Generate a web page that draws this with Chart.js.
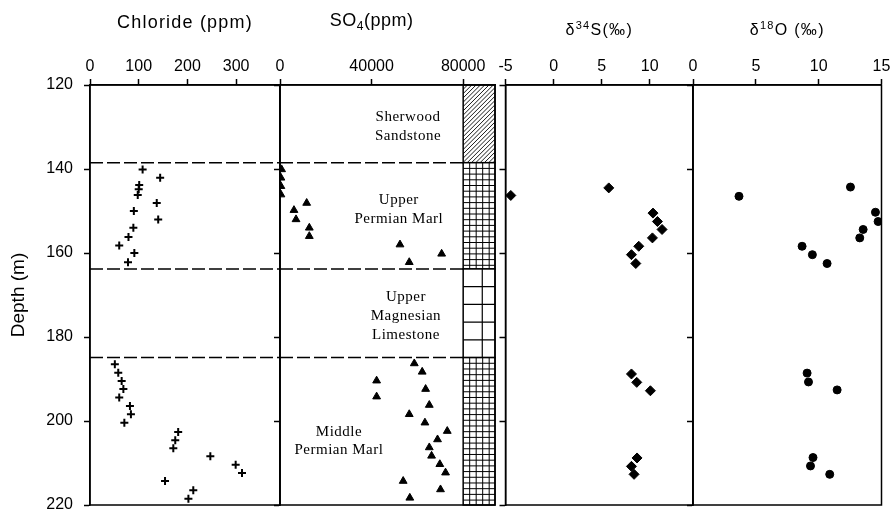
<!DOCTYPE html>
<html><head><meta charset="utf-8">
<script src="https://cdn.jsdelivr.net/npm/chart.js@4/dist/chart.umd.min.js"></script>
<style>
html,body{margin:0;padding:0;background:#fff;}
#wrap{position:relative;width:894px;height:511px;overflow:hidden;}
#wrap canvas{position:absolute;left:0;top:0;}
</style></head><body>
<div id="wrap">
<canvas id="c1" width="894" height="511"></canvas>
<canvas id="c2" width="894" height="511"></canvas>
<canvas id="c3" width="894" height="511"></canvas>
<canvas id="c4" width="894" height="511"></canvas>
</div>
<script>
// ---------------- data ----------------
const depthTicks = [120, 140, 160, 180, 200, 220];
const chlorideTicks = [0, 100, 200, 300];
const so4Ticks = [0, 40000, 80000];
const d34sTicks = [-5, 0, 5, 10];
const d18oTicks = [0, 5, 10, 15];

const chlorideDepth = [140.1, 142.1, 143.8, 144.8, 146.2, 148.1, 150, 152, 154, 156.2, 158.2, 160, 162.2,
  186.5, 188.5, 190.5, 192.4, 194.4, 196.4, 198.4, 200.4, 202.6, 204.6, 206.5, 208.4, 210.4, 212.4, 214.3, 216.5, 218.5];
const chlorideValue = [108, 144, 101, 100, 98, 137, 90, 140, 89, 79, 60, 91, 78,
  51, 58, 65, 68.5, 60, 82, 84, 70.5, 181, 175, 171, 247, 299, 312, 154, 212, 202];

const so4Depth = [140.1, 142.1, 144.1, 146.1, 148.1, 149.8, 152, 154, 156, 158, 160.2, 162.2,
  186.3, 188.3, 190.4, 192.4, 194.2, 196.2, 198.4, 200.4, 202.4, 204.4, 206.3, 208.3, 210.3, 212.3, 214.3, 216.3, 218.3];
const so4Value = [700, 400, 400, 400, 11650, 6100, 7000, 12800, 12800, 52400, 70600, 56450,
  58650, 62100, 42200, 63600, 42200, 65200, 56450, 63300, 73050, 68800, 65200, 66200, 69800, 72300, 53800, 70100, 56700];

const d34sDepth = [144.5, 146.3, 150.5, 152.5, 154.4, 156.4, 158.4, 160.4, 162.5, 188.8, 190.8, 192.8, 208.8, 210.8, 212.7];
const d34sValue = [5.74, -4.45, 10.34, 10.8, 11.28, 10.28, 8.86, 8.1, 8.55, 8.1, 8.65, 10.07, 8.68, 8.1, 8.37];

const d18oDepth = [144.3, 146.5, 150.3, 152.5, 154.4, 156.4, 158.4, 160.4, 162.5, 188.6, 190.7, 192.6, 208.7, 210.7, 212.7];
const d18oValue = [12.53, 3.66, 14.52, 14.73, 13.54, 13.27, 8.68, 9.5, 10.67, 9.08, 9.19, 11.47, 9.55, 9.35, 10.88];

const unitTop  = [120, 138.5, 163.8, 184.9];
const unitBase = [138.5, 163.8, 184.9, 220];
const unitLith = ['sandstone', 'marl', 'limestone', 'marl'];
const unitLabelLines = [['Sherwood', 'Sandstone'], ['Upper', 'Permian Marl'], ['Upper', 'Magnesian', 'Limestone'], ['Middle', 'Permian Marl']];

// ---------------- layout ----------------
const W = 894, H = 511, TOP = 85, BOTTOM = 505;
const SANS = "'Liberation Sans', Arial, Helvetica, sans-serif";
const SERIF = "'Liberation Serif', 'Times New Roman', serif";
const tickFont = {family: SANS, size: 16};

function pts(xs, ys) { return xs.map((v, i) => ({x: v, y: ys[i]})); }

function drawRich(ctx, cx, baseY, parts, family, spacing) {
  ctx.save();
  ctx.fillStyle = '#000';
  ctx.textBaseline = 'alphabetic';
  ctx.textAlign = 'left';
  ctx.letterSpacing = spacing + 'px';
  let total = 0;
  const widths = parts.map(p => { ctx.font = p.size + 'px ' + family; const w = ctx.measureText(p.text).width; total += w; return w; });
  let x = cx - total / 2;
  parts.forEach((p, i) => { ctx.font = p.size + 'px ' + family; ctx.fillText(p.text, x, baseY + (p.dy || 0)); x += widths[i]; });
  ctx.restore();
}

const framePlugin = {
  id: 'frame',
  afterDraw(chart) {
    const {ctx, chartArea: a} = chart;
    ctx.save();
    ctx.strokeStyle = '#000';
    ctx.lineWidth = 1.5;
    ctx.strokeRect(a.left, a.top, a.right - a.left, a.bottom - a.top);
    ctx.restore();
  }
};

function dashedBoundaries(chart, xEndValue) {
  const {ctx, chartArea: a, scales: {x, y}} = chart;
  const xEnd = xEndValue == null ? a.right : x.getPixelForValue(xEndValue);
  ctx.save();
  ctx.strokeStyle = '#000';
  ctx.lineWidth = 1.5;
  ctx.setLineDash([13, 4]);
  for (let i = 1; i < unitTop.length; i++) {
    const yy = y.getPixelForValue(unitTop[i]);
    ctx.beginPath();
    ctx.moveTo(a.left, yy);
    ctx.lineTo(xEnd, yy);
    ctx.stroke();
  }
  ctx.restore();
}

function titlePlugin(parts, baseY, family, spacing, centerValue) {
  return {
    id: 'ttl',
    afterDraw(chart) {
      const x = chart.scales.x;
      const cx = centerValue == null ? (chart.chartArea.left + chart.chartArea.right) / 2 : x.getPixelForValue(centerValue);
      drawRich(chart.ctx, cx, baseY, parts, family, spacing);
    }
  };
}

function makeChart(id, cfg) {
  const mainY = !!cfg.mainY;
  const yWidth = mainY ? cfg.left : 7;
  return new Chart(document.getElementById(id), {
    type: 'scatter',
    data: {datasets: cfg.datasets},
    options: {
      responsive: false,
      animation: false,
      devicePixelRatio: 1,
      layout: {padding: {left: cfg.left - yWidth, right: W - cfg.right, top: 0, bottom: H - BOTTOM}},
      plugins: {legend: {display: false}, tooltip: {enabled: false}},
      scales: {
        x: {
          type: 'linear', position: 'top', min: cfg.min, max: cfg.max,
          afterBuildTicks: s => { s.ticks = cfg.ticks.map(v => ({value: v})); },
          afterFit: s => { s.height = TOP; s.paddingLeft = 0; s.paddingRight = 0; s.paddingTop = 0; s.paddingBottom = 0; },
          grid: {display: true, drawOnChartArea: false, drawTicks: true, tickLength: 6, tickWidth: 1.5, tickColor: '#000', color: '#000'},
          border: {display: true, color: '#000', width: 1.5},
          ticks: {color: '#000', font: tickFont, padding: 3, autoSkip: false, maxRotation: 0, minRotation: 0, callback: v => String(v)}
        },
        y: {
          type: 'linear', position: 'left', reverse: true, min: 120, max: 220,
          afterBuildTicks: s => { s.ticks = depthTicks.map(v => ({value: v})); },
          afterFit: s => { s.width = yWidth; s.paddingLeft = 0; s.paddingRight = 0; s.paddingTop = 0; s.paddingBottom = 0; },
          grid: {display: true, drawOnChartArea: false, drawTicks: true, tickLength: 6, tickWidth: 1.5, tickColor: '#000', color: '#000'},
          border: {display: true, color: '#000', width: 1.5},
          ticks: {display: mainY, color: '#000', font: tickFont, padding: 11, autoSkip: false, callback: v => String(v)},
          title: {display: mainY, text: 'Depth (m)', color: '#000', font: {family: SANS, size: 19}, padding: {top: 7, bottom: 0}}
        }
      }
    },
    plugins: cfg.plugins
  });
}

// ---------------- lithology column ----------------
function drawColumn(chart) {
  const {ctx, chartArea: a, scales: {x, y}} = chart;
  const x0 = x.getPixelForValue(80000), x1 = a.right;
  ctx.save();
  for (let i = 0; i < unitTop.length; i++) {
    const y0 = y.getPixelForValue(unitTop[i]), y1 = y.getPixelForValue(unitBase[i]);
    const h = y1 - y0, w = x1 - x0;
    ctx.save();
    ctx.beginPath(); ctx.rect(x0, y0, w, h); ctx.clip();
    ctx.fillStyle = '#fff'; ctx.fillRect(x0, y0, w, h);
    ctx.strokeStyle = '#000';
    ctx.beginPath();
    if (unitLith[i] === 'sandstone') {
      ctx.lineWidth = 0.9;
      for (let k = -h; k < w + h; k += 4.3) { ctx.moveTo(x0 + k, y1); ctx.lineTo(x0 + k + h, y0); }
    } else if (unitLith[i] === 'marl') {
      ctx.lineWidth = 1;
      for (let k = 6.5; k < w; k += 6.5) { ctx.moveTo(x0 + k, y0); ctx.lineTo(x0 + k, y1); }
      for (let k = 5.7; k < h; k += 5.7) { ctx.moveTo(x0, y0 + k); ctx.lineTo(x1, y0 + k); }
    } else {
      ctx.lineWidth = 1.2;
      const n = 5;
      for (let k = 1; k < n; k++) { const yy = y0 + h * k / n; ctx.moveTo(x0, yy); ctx.lineTo(x1, yy); }
      ctx.moveTo(x0 + w * 0.6, y0); ctx.lineTo(x0 + w * 0.6, y1);
    }
    ctx.stroke();
    ctx.restore();
    ctx.strokeStyle = '#000'; ctx.lineWidth = 1.5;
    ctx.strokeRect(x0, y0, w, h);
  }
  ctx.restore();
}

const unitLabelAnchor = [
  {x: 55900, d: [127.6, 132.1]},
  {x: 51900, d: [147.4, 151.9]},
  {x: 55000, d: [170.5, 175.1, 179.5]},
  {x: 25750, d: [202.6, 206.9]}
];

function drawUnitLabels(chart) {
  const {ctx, scales: {x, y}} = chart;
  ctx.save();
  ctx.fillStyle = '#000';
  ctx.font = '15px ' + SERIF;
  ctx.letterSpacing = '0.5px';
  ctx.textAlign = 'center';
  ctx.textBaseline = 'middle';
  unitLabelLines.forEach((lines, i) => {
    const an = unitLabelAnchor[i];
    lines.forEach((t, j) => ctx.fillText(t, x.getPixelForValue(an.x), y.getPixelForValue(an.d[j])));
  });
  ctx.restore();
}

// ---------------- charts ----------------
const black = '#000';

makeChart('c1', {
  mainY: true, left: 90, right: 280, min: 0, max: 390, ticks: chlorideTicks,
  datasets: [{data: pts(chlorideValue, chlorideDepth), pointStyle: 'cross', pointRadius: 4, borderColor: black, backgroundColor: black, borderWidth: 2}],
  plugins: [framePlugin, {id: 'dash1', beforeDatasetsDraw(c) { dashedBoundaries(c, null); }},
    titlePlugin([{text: 'Chloride (ppm)', size: 18}], 28, SANS, 1.2, null)]
});

makeChart('c2', {
  left: 280, right: 495, min: 0, max: 93900, ticks: so4Ticks,
  datasets: [{data: pts(so4Value, so4Depth), pointStyle: 'triangle', pointRadius: 4.5, borderColor: black, backgroundColor: black, borderWidth: 1}],
  plugins: [framePlugin, {id: 'col', beforeDatasetsDraw(c) { dashedBoundaries(c, 80000); drawColumn(c); drawUnitLabels(c); }},
    titlePlugin([{text: 'SO', size: 18}, {text: '4', size: 12, dy: 4}, {text: '(ppm)', size: 18}], 26, SANS, 0.5, 40000)]
});

makeChart('c3', {
  left: 505.5, right: 693, min: -5, max: 14.5, ticks: d34sTicks,
  datasets: [{data: pts(d34sValue, d34sDepth), pointStyle: 'rectRot', pointRadius: 5, borderColor: black, backgroundColor: black, borderWidth: 1}],
  plugins: [framePlugin,
    titlePlugin([{text: 'δ', size: 16}, {text: '34', size: 11, dy: -6}, {text: 'S(‰)', size: 16}], 35, SANS, 1.3, null)]
});

makeChart('c4', {
  left: 693, right: 881.5, min: 0, max: 15, ticks: d18oTicks,
  datasets: [{data: pts(d18oValue, d18oDepth), pointStyle: 'circle', pointRadius: 4, borderColor: black, backgroundColor: black, borderWidth: 1}],
  plugins: [framePlugin,
    titlePlugin([{text: 'δ', size: 16}, {text: '18', size: 11, dy: -6}, {text: 'O (‰)', size: 16}], 35, SANS, 1.3, null)]
});
</script>
</body></html>
